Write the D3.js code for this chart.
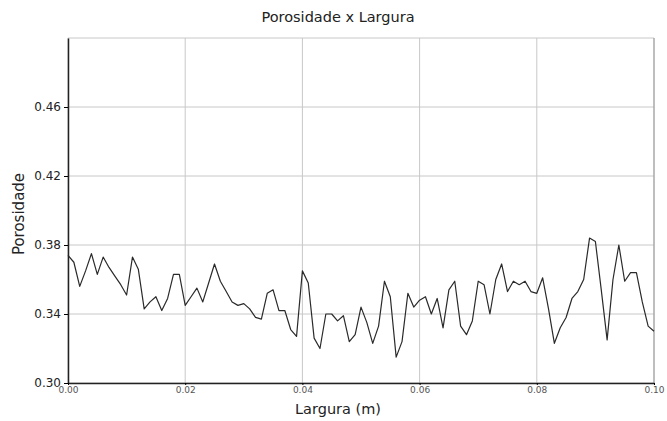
<!DOCTYPE html>
<html>
<head>
<meta charset="utf-8">
<script src="https://cdn.jsdelivr.net/npm/d3@7"></script>
<style>
  body { margin: 0; background: #fff; }
  text { font-family: "DejaVu Sans", sans-serif; }
</style>
</head>
<body>
<div id="viz"></div>
<script>
// porosity sampled every 1 mm across the 0.10 m width
const porosity = [
  0.374, 0.370, 0.356, 0.365, 0.375, 0.363, 0.373, 0.367, 0.362, 0.357,
  0.351, 0.373, 0.366, 0.343, 0.347, 0.350, 0.342, 0.349, 0.363, 0.363,
  0.345, 0.350, 0.355, 0.347, 0.358, 0.369, 0.359, 0.353, 0.347, 0.345,
  0.346, 0.343, 0.338, 0.337, 0.352, 0.354, 0.342, 0.342, 0.331, 0.327,
  0.365, 0.358, 0.326, 0.320, 0.340, 0.340, 0.336, 0.339, 0.324, 0.328,
  0.344, 0.335, 0.323, 0.333, 0.359, 0.350, 0.315, 0.324, 0.352, 0.344,
  0.348, 0.350, 0.340, 0.349, 0.332, 0.354, 0.359, 0.333, 0.328, 0.336,
  0.359, 0.357, 0.340, 0.360, 0.369, 0.353, 0.359, 0.357, 0.359, 0.353,
  0.352, 0.361, 0.343, 0.323, 0.332, 0.338, 0.349, 0.353, 0.360, 0.384,
  0.382, 0.354, 0.325, 0.360, 0.380, 0.359, 0.364, 0.364, 0.347, 0.333,
  0.330
];
const sampleStep = 0.001;
const widthPos = porosity.map((_, i) => +(i * sampleStep).toFixed(3));

const xTicks = [0, 0.02, 0.04, 0.06, 0.08, 0.10];
const yTicks = [0.30, 0.34, 0.38, 0.42, 0.46];
const yGrid = [0.30, 0.34, 0.38, 0.42, 0.46, 0.50];

const data = widthPos.map((w, i) => ({ w: w, p: porosity[i] }));

let margin = { top: 38, right: 13, bottom: 38, left: 68 },
  width = 667 - margin.left - margin.right,
  height = 421 - margin.top - margin.bottom;

// title and x label sit a bit left of the plot centre in the original
let labelCenter = 338;

let svgRoot = d3.select('#viz')
  .append('svg')
  .attr('width', 667)
  .attr('height', 421);

let svg = svgRoot.append('g')
  .attr('transform', `translate(${margin.left}, ${margin.top})`);

let x = d3.scaleLinear().domain([0, 0.10]).range([0, width]);
let y = d3.scaleLinear().domain([0.30, 0.50]).range([height, 0]);

// grid
svg.append('g')
  .selectAll('line')
  .data(xTicks)
  .join('line')
  .attr('x1', d => x(d)).attr('x2', d => x(d))
  .attr('y1', 0).attr('y2', height)
  .attr('stroke', '#c8c8c8')
  .attr('stroke-width', 1);

svg.append('g')
  .selectAll('line')
  .data(yGrid)
  .join('line')
  .attr('x1', 0).attr('x2', width)
  .attr('y1', d => y(d)).attr('y2', d => y(d))
  .attr('stroke', '#c8c8c8')
  .attr('stroke-width', 1);

// right spine
svg.append('line')
  .attr('x1', width).attr('x2', width)
  .attr('y1', 0).attr('y2', height)
  .attr('stroke', '#999');

// line
let line = d3.line()
  .x(d => x(d.w))
  .y(d => y(d.p));

svg.append('path')
  .datum(data)
  .attr('fill', 'none')
  .attr('stroke', '#2a2a2a')
  .attr('stroke-width', 1.2)
  .attr('stroke-linejoin', 'round')
  .attr('d', line);

// axes
let yAxis = svg.append('g')
  .call(d3.axisLeft(y).tickValues(yTicks).tickFormat(d3.format('.2f')).tickSize(4).tickSizeOuter(0));
yAxis.select('.domain').attr('stroke', '#222').attr('stroke-width', 1.5);
yAxis.selectAll('text')
  .style('font-size', '12px')
  .attr('fill', '#222');

let xAxis = svg.append('g')
  .attr('transform', `translate(0,${height})`)
  .call(d3.axisBottom(x).tickValues(xTicks).tickFormat(d3.format('.2f')).tickSize(2).tickSizeOuter(0));
xAxis.select('.domain').attr('stroke', '#222').attr('stroke-width', 1.5);
xAxis.selectAll('text')
  .style('font-size', '9px')
  .attr('fill', '#555')
  .attr('dy', '0.6em');

// titles
svgRoot.append('text')
  .attr('x', labelCenter)
  .attr('y', 22)
  .attr('text-anchor', 'middle')
  .style('font-size', '14.5px')
  .attr('fill', '#222')
  .text('Porosidade x Largura');

svgRoot.append('text')
  .attr('x', labelCenter)
  .attr('y', 414)
  .attr('text-anchor', 'middle')
  .style('font-size', '14.5px')
  .attr('fill', '#222')
  .text('Largura (m)');

svgRoot.append('text')
  .attr('transform', `translate(24, 214) rotate(-90)`)
  .attr('text-anchor', 'middle')
  .style('font-size', '15px')
  .attr('fill', '#222')
  .text('Porosidade');
</script>
</body>
</html>
